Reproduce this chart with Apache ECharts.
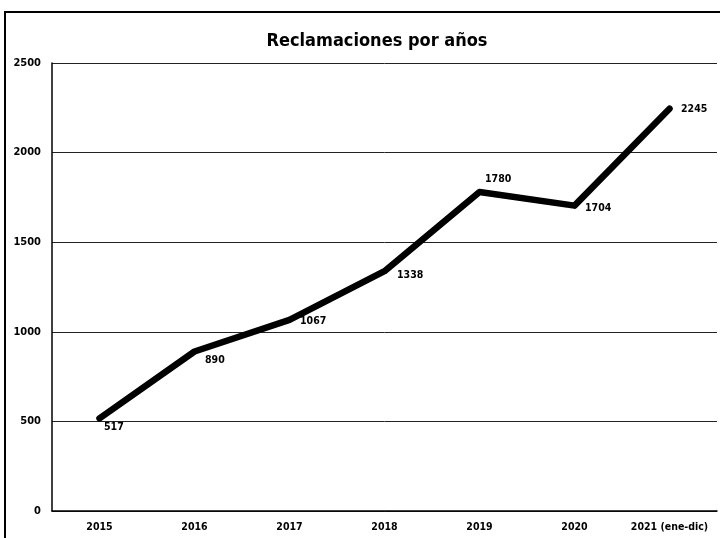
<!DOCTYPE html>
<html>
<head>
<meta charset="utf-8">
<script src="https://cdn.jsdelivr.net/npm/echarts@6/dist/echarts.min.js"></script>
<style>
  html, body { margin: 0; padding: 0; background: #fff; }
  #chart { width: 720px; height: 538px; }
</style>
</head>
<body>
<div id="chart"></div>
<script>
// Annual complaint counts
const years = ['2015', '2016', '2017', '2018', '2019', '2020', '2021 (ene-dic)'];
const reclamaciones = [517, 890, 1067, 1338, 1780, 1704, 2245];
const yTicks = [0, 500, 1000, 1500, 2000, 2500];

// Where each value label sits relative to its point (text left edge, vertical centre)
const labelOffsets = [[4, 9], [10, 9], [10, 1], [12, 4], [5, -13], [10, 3], [11, 1]];

const FONT = "'DejaVu Sans Condensed', 'Liberation Sans Narrow', sans-serif";

const chart = echarts.init(document.getElementById('chart'));

chart.setOption({
  animation: false,
  backgroundColor: '#ffffff',
  title: {
    text: 'Reclamaciones por años',
    left: 372,
    top: 27,
    textAlign: 'center',
    textStyle: { fontFamily: FONT, fontWeight: 'bold', fontSize: 18, color: '#000' }
  },
  graphic: [{
    type: 'rect',
    shape: { x: 5, y: 12, width: 730, height: 540 },
    style: { fill: 'none', stroke: '#000', lineWidth: 2 },
    silent: true
  }],
  grid: { left: 52, right: 3, top: 63, bottom: 27 },
  xAxis: {
    type: 'category',
    data: years,
    boundaryGap: true,
    axisLine: { lineStyle: { color: '#000', width: 1.5 } },
    axisTick: { show: false },
    axisLabel: { interval: 0, fontFamily: FONT, fontWeight: 'bold', fontSize: 10.5, color: '#000', margin: 11 }
  },
  yAxis: {
    type: 'value',
    min: yTicks[0],
    max: yTicks[yTicks.length - 1],
    interval: yTicks[1] - yTicks[0],
    axisLine: { show: true, lineStyle: { color: '#000', width: 1.5 } },
    axisTick: { show: false },
    axisLabel: {
      formatter: v => String(v),
      fontFamily: FONT, fontWeight: 'bold', fontSize: 11, color: '#000', margin: 11
    },
    splitLine: { lineStyle: { color: '#222', width: 1 } }
  },
  series: [{
    type: 'line',
    data: reclamaciones.map((v, i) => ({
      value: v,
      label: { offset: [labelOffsets[i][0], labelOffsets[i][1]] }
    })),
    symbol: 'circle',
    symbolSize: 1,
    showSymbol: true,
    itemStyle: { color: '#000' },
    lineStyle: { color: '#000', width: 6.5, cap: 'round', join: 'round' },
    label: {
      show: true,
      position: 'right',
      distance: 0,
      align: 'left',
      verticalAlign: 'middle',
      fontFamily: FONT,
      fontWeight: 'bold',
      fontSize: 10.5,
      color: '#000'
    }
  }]
});
</script>
</body>
</html>
